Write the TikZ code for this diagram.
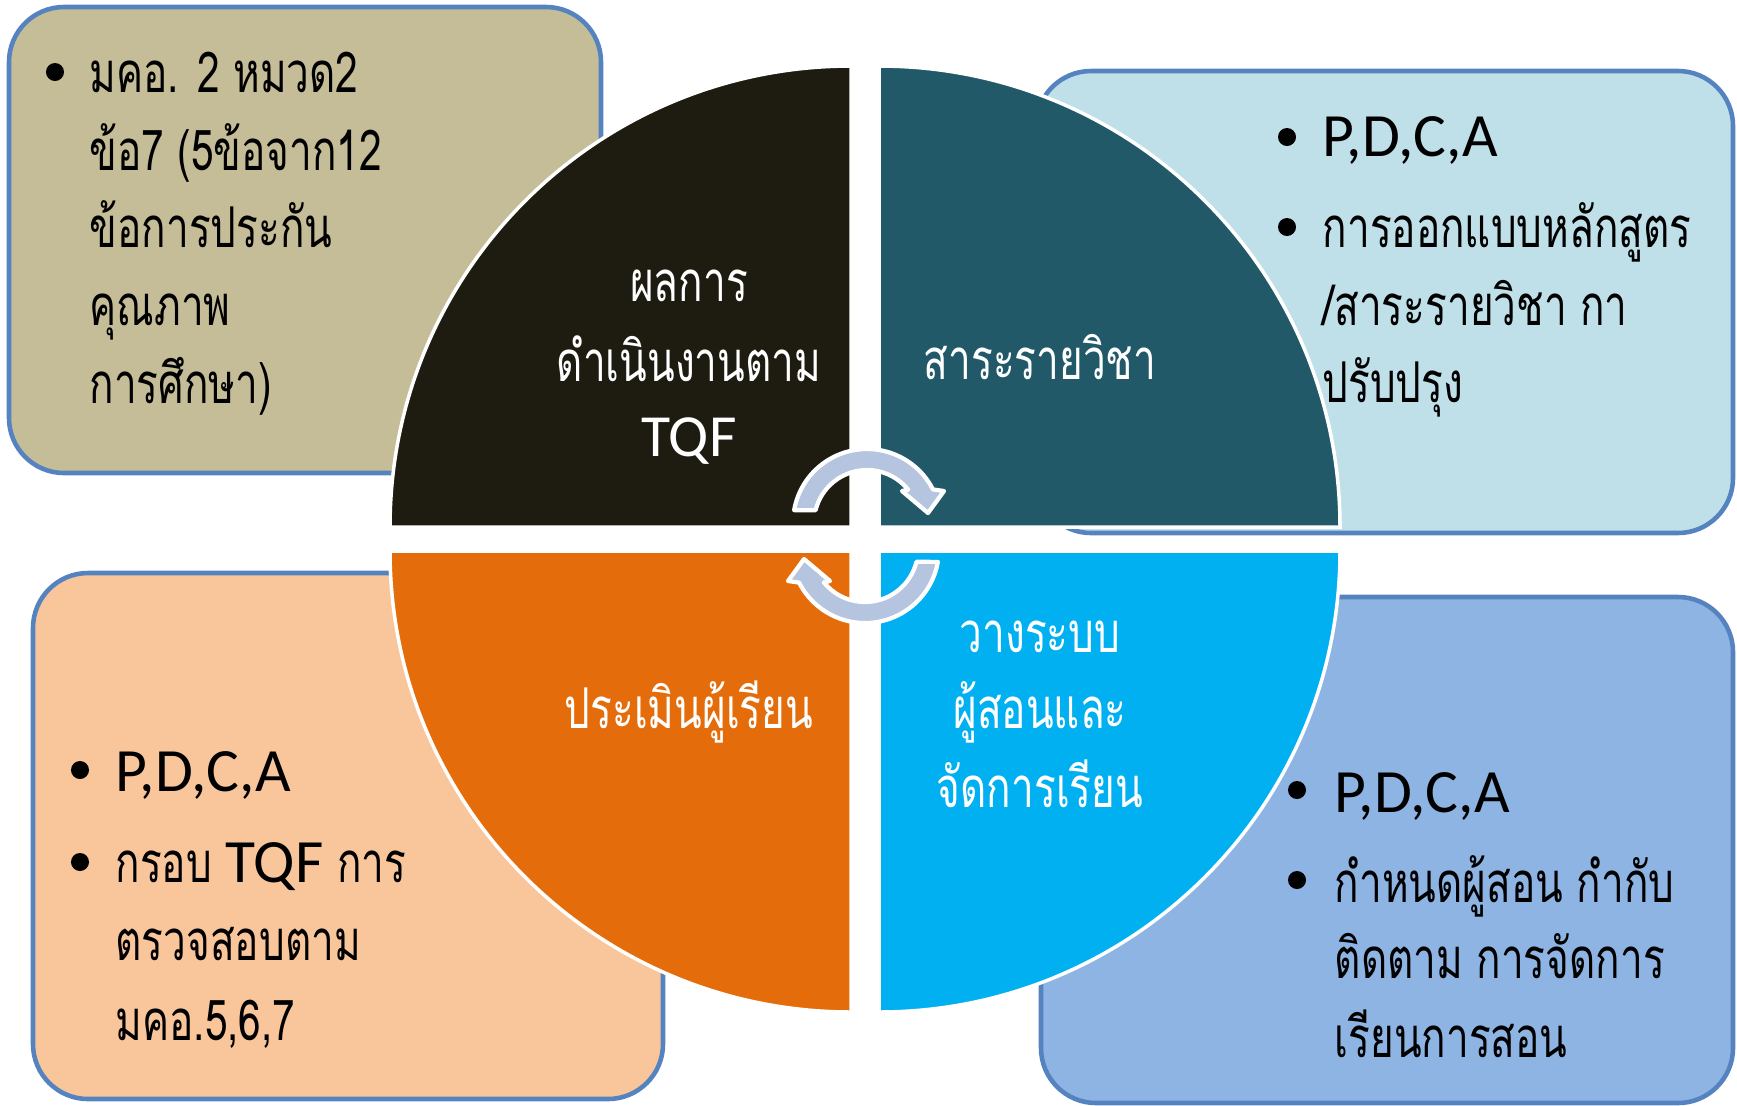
\documentclass[tikz,border=0pt]{standalone}
\usepackage{fontspec}
\newfontfamily\thaifont[Script=Thai,FakeStretch=0.72]{Loma}
\newfontfamily\calfont{Carlito}
\newcommand{\thaisize}{\thaifont\fontsize{16pt}{20pt}\selectfont}
\newcommand{\calsize}{\calfont\fontsize{17.5pt}{21pt}\selectfont}

\definecolor{tanfill}{HTML}{C4BD97}
\definecolor{aquafill}{HTML}{C0E0E9}
\definecolor{peachfill}{HTML}{F9C69C}
\definecolor{bluefill}{HTML}{8EB4E3}
\definecolor{boxline}{HTML}{5583C0}
\definecolor{qdark}{HTML}{1E1C11}
\definecolor{qteal}{HTML}{215968}
\definecolor{qorange}{HTML}{E46C0A}
\definecolor{qcyan}{HTML}{00B0F0}
\definecolor{arrowblue}{HTML}{B5C4DF}

\begin{document}
\begin{tikzpicture}[x=0.01cm, y=-0.01cm,
                    box/.style={draw=boxline, line width=1.3pt, rounded corners=0.55cm},
                    quarter/.style={draw=white, line width=1pt},
                    cycarrow/.style={fill=arrowblue, draw=white, line width=1.2pt, line join=round},
                    dot/.style={circle, fill=black, inner sep=0pt, minimum size=0.18cm},
                    boxtext/.style={anchor=base west, inner sep=0pt, font=\thaisize},
                    pdca/.style={anchor=base west, inner sep=0pt, font=\calsize},
                    qtext/.style={anchor=base, inner sep=0pt, text=white, font=\thaisize}]

  \useasboundingbox (0,0) rectangle (1737,1105);

  % boxes behind the circle
  \draw[box, fill=tanfill]   (9,7)     rectangle (601,473);
  \draw[box, fill=aquafill]  (1036,71) rectangle (1733,533);
  \draw[box, fill=peachfill] (33,573)  rectangle (663,1099);
  \draw[box, fill=bluefill]  (1041,597) rectangle (1733,1103);

  % four quarters
  \filldraw[quarter, fill=qdark]   (851,527) -- (390,527) arc[start angle=180, end angle=270, radius=461] -- cycle;
  \filldraw[quarter, fill=qteal]   (879,527) -- (879,66) arc[start angle=270, end angle=360, radius=461] -- cycle;
  \filldraw[quarter, fill=qorange] (851,551) -- (851,1012) arc[start angle=90, end angle=180, radius=461] -- cycle;
  \filldraw[quarter, fill=qcyan]   (879,551) -- (1340,551) arc[start angle=0, end angle=90, radius=461] -- cycle;

  % turning arrows
  \foreach \rot in {0,180}
    \filldraw[cycarrow, rotate around={\rot:(866,536)}, shift={(867,523)}]
      (190:74) arc[start angle=190, end angle=333, radius=74]
      -- (77,-32) -- (61,-10) -- (35,-32) -- (321:53)
      arc[start angle=321, end angle=194, radius=53] -- cycle;

  % quarter labels
  \node[qtext] (res1) at (689,301) {ผลการ};
  \node[qtext] (res2) at (689,381) {ดำเนินงานตาม};
  \node[qtext, font=\calfont\fontsize{17pt}{20pt}\selectfont] (res3) at (689,456) {TQF};
  \node[qtext] (subj) at (1040,379) {สาระรายวิชา};
  \node[qtext] (eval) at (689,728) {ประเมินผู้เรียน};
  \node[qtext] (plan1) at (1040,652) {วางระบบ};
  \node[qtext] (plan2) at (1040,728) {ผู้สอนและ};
  \node[qtext] (plan3) at (1040,807) {จัดการเรียน};

  % top left box
  \node[dot] (tlb) at (55,72) {};
  \node[boxtext] (tl1) at (89,92) {มคอ. 2 หมวด2};
  \node[boxtext] (tl2) at (89,170) {ข้อ7 (5ข้อจาก12};
  \node[boxtext] (tl3) at (89,247) {ข้อการประกัน};
  \node[boxtext] (tl4) at (89,325) {คุณภาพ};
  \node[boxtext] (tl5) at (89,403) {การศึกษา)};

  % top right box
  \node[dot] (trb1) at (1287,137) {};
  \node[pdca] (tr1) at (1322,156) {P,D,C,A};
  \node[dot] (trb2) at (1287,227) {};
  \node[boxtext] (tr2) at (1322,247) {การออกแบบหลักสูตร};
  \node[boxtext] (tr3) at (1322,325) {/สาระรายวิชา กา};
  \node[boxtext] (tr4) at (1322,402) {ปรับปรุง};

  % bottom left box
  \node[dot] (blb1) at (80,770) {};
  \node[pdca] (bl1) at (115,791) {P,D,C,A};
  \node[dot] (blb2) at (80,862) {};
  \node[boxtext] (bl2) at (115,882) {กรอบ {\calsize TQF} การ};
  \node[boxtext] (bl3) at (115,960) {ตรวจสอบตาม};
  \node[boxtext] (bl4) at (115,1040) {มคอ.5,6,7};

  % bottom right box
  \node[dot] (brb1) at (1297,790) {};
  \node[pdca] (br1) at (1334,812) {P,D,C,A};
  \node[dot] (brb2) at (1297,880) {};
  \node[boxtext] (br2) at (1334,902) {กำหนดผู้สอน กำกับ};
  \node[boxtext] (br3) at (1334,978) {ติดตาม การจัดการ};
  \node[boxtext] (br4) at (1334,1057) {เรียนการสอน};
\end{tikzpicture}
\end{document}
